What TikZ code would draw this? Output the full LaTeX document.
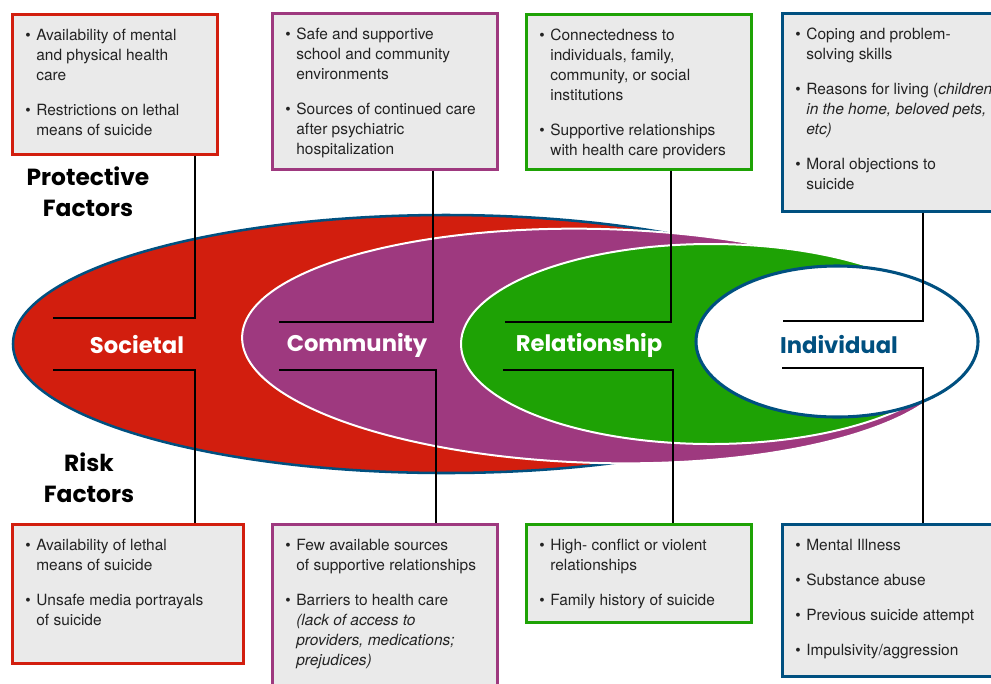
\documentclass[tikz,border=0pt]{standalone}
\usepackage{fontspec}
\setmainfont{TeX Gyre Heros}
\newfontfamily\gothic{Poppins}
\usetikzlibrary{positioning}

\definecolor{socred}{RGB}{210,30,14}
\definecolor{compurple}{RGB}{158,57,127}
\definecolor{relgreen}{RGB}{30,162,5}
\definecolor{indblue}{RGB}{0,80,128}
\definecolor{boxgray}{RGB}{234,234,234}
\definecolor{boxtext}{RGB}{35,35,35}

\newdimen\pxu \pxu=0.75pt
\newcommand{\factorlist}[3]{\parbox[c][#2\pxu][t]{#1\pxu}{\fontsize{11.6pt}{15pt}\selectfont
  \vspace*{-2.1pt}\leftskip=9.75pt\rightskip=-30pt plus 1fil\parindent=0pt #3}}
\newcommand{\bitem}{\par\vspace{11.3pt}\hangindent=8.25pt\hangafter=1\noindent\strut\makebox[8.25pt][l]{\textbullet}}

\tikzset{every picture/.style={line width=0.75pt}}
\tikzset{
  factorbox/.style={draw=#1, fill=boxgray, line width=2pt, anchor=north west, inner sep=0pt, text=boxtext},
  levellabel/.style={font=\gothic\bfseries\fontsize{17pt}{20pt}\selectfont, text=white},
  headlabel/.style={font=\gothic\bfseries\fontsize{17.5pt}{23pt}\selectfont, align=center},
  connector/.style={line width=1.2pt, black},
}

\begin{document}
\begin{tikzpicture}[x=0.75pt,y=0.75pt,yscale=-1,xscale=1]
	\clip (0,0) rectangle (991,683);

	%Shape: Ellipse [societal]
	\draw [fill=socred, draw=indblue, line width=1.9pt] (446,344) ellipse [x radius=433, y radius=129];
	%Shape: Ellipse [community]
	\draw [fill=compurple, draw=white, line width=1.5pt, rotate around={1.5:(600,346)}] (600,346) ellipse [x radius=358, y radius=117];
	%Shape: Ellipse [relationship]
	\draw [fill=relgreen, draw=white, line width=1.5pt] (711,344) ellipse [x radius=250, y radius=100];
	%Shape: Ellipse [individual]
	\draw [fill=white, draw=indblue, line width=2.3pt] (837,341.5) ellipse [x radius=141, y radius=75.5];

	% Text Node
	\node [levellabel] (soc) at (137,345) {Societal};
	% Text Node
	\node [levellabel] (com) at (357,345) {Community};
	% Text Node
	\node [levellabel] (rel) at (589,345) {Relationship};
	% Text Node
	\node [levellabel, text=indblue] (ind) at (839,345) {Individual};

	% Text Node
	\node [headlabel] (protect) at (88,192) {Protective\\Factors};
	% Text Node
	\node [headlabel] (risk) at (89,478) {Risk\\Factors};

	%Protective factor boxes
	\node [factorbox=socred] (boxA) at (11,13) {\factorlist{205}{140}{%
		\bitem Availability of mental\\and physical health\\care
		\bitem Restrictions on lethal\\means of suicide}};
	\node [factorbox=compurple] (boxB) at (271,12) {\factorlist{225}{156}{%
		\bitem Safe and supportive\\school and community\\environments
		\bitem Sources of continued care\\after psychiatric\\hospitalization}};
	\node [factorbox=relgreen] (boxC) at (525,13) {\factorlist{225}{155}{%
		\bitem Connectedness to\\individuals, family,\\community, or social\\institutions
		\bitem Supportive relationships\\with health care providers}};
	\node [factorbox=indblue] (boxD) at (781,12) {\factorlist{235}{198}{%
		\bitem Coping and problem-\\solving skills
		\bitem Reasons for living (\textit{children}\\\textit{in the home, beloved pets,}\\\textit{etc)}
		\bitem Moral objections to\\suicide}};

	%Risk factor boxes
	\node [factorbox=socred] (boxE) at (11,523) {\factorlist{231}{139}{%
		\bitem Availability of lethal\\means of suicide
		\bitem Unsafe media portrayals\\of suicide}};
	\node [factorbox=compurple] (boxF) at (271,523) {\factorlist{225}{180}{%
		\bitem Few available sources\\of supportive relationships
		\bitem Barriers to health care\\\textit{(lack of access to}\\\textit{providers, medications;}\\\textit{prejudices)}}};
	\node [factorbox=relgreen] (boxG) at (525,523) {\factorlist{225}{98}{%
		\bitem High- conflict or violent\\relationships
		\bitem Family history of suicide}};
	\node [factorbox=indblue] (boxH) at (781,523) {\factorlist{235}{152}{%
		\bitem Mental Illness
		\bitem Substance abuse
		\bitem Previous suicide attempt
		\bitem Impulsivity/aggression}};

	%Connector ends
	\coordinate (socTop) at (53,318);
	\coordinate (comTop) at (279,322);
	\coordinate (relTop) at (505,322);
	\coordinate (indTop) at (783,321);
	\coordinate (socBot) at (53,370);
	\coordinate (comBot) at (279,370);
	\coordinate (relBot) at (503,370);
	\coordinate (indBot) at (782,368);

	%Straight Lines
	\draw [connector] (boxA.south west) ++(184,0) |- (socTop);
	\draw [connector] (boxB.south west) ++(162,0) |- (comTop);
	\draw [connector] (boxC.south west) ++(146,0) |- (relTop);
	\draw [connector] (boxD.south west) ++(142,0) |- (indTop);
	\draw [connector] (boxE.north west) ++(184,0) |- (socBot);
	\draw [connector] (boxF.north west) ++(165,0) |- (comBot);
	\draw [connector] (boxG.north west) ++(148,0) |- (relBot);
	\draw [connector] (boxH.north west) ++(142,0) |- (indBot);

\end{tikzpicture}
\end{document}
